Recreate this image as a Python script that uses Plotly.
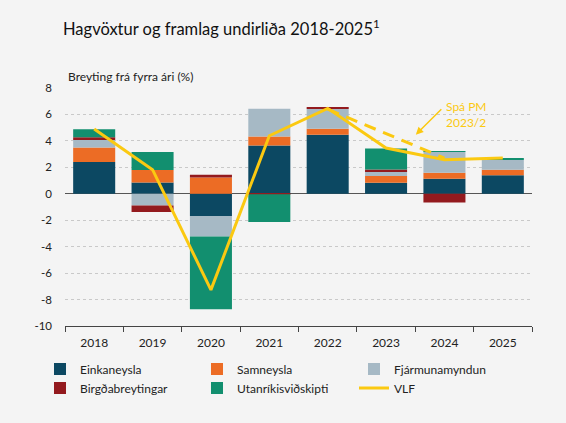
import plotly.graph_objects as go

years = ["2018", "2019", "2020", "2021", "2022", "2023", "2024", "2025"]
einkaneysla = [2.4, 0.86, -1.69, 3.66, 4.47, 0.83, 1.14, 1.41]
samneysla = [1.1, 0.93, 1.24, 0.68, 0.45, 0.51, 0.45, 0.41]
fjarmunamyndun = [0.56, -0.88, -1.54, 2.1, 1.52, 0.38, 1.59, 0.76]
birgdabreytingar = [0.22, -0.5, 0.2, -0.03, 0.08, 0.12, -0.66, 0.0]
utanrikis = [0.6, 1.37, -5.5, -2.1, 0.0, 1.59, 0.05, 0.12]
vlf = [4.9, 1.82, -7.27, 4.39, 6.46, 3.46, 2.58, 2.7]
spa_years = ["2022", "2023", "2024"]
spa_pm = [6.4, 4.55, 2.7]
ytick_vals = [-10, -8, -6, -4, -2, 0, 2, 4, 6, 8]
ytick_text = ["-10", "-8", "-6", "-4", "-2", "0", "2", "4", "6", "8"]

FONT = "Lato"
BG = "#f4f4f4"
YELLOW = "#fbc911"
PLOT_L, PLOT_W = 65, 467
fig = go.Figure()
series = [
    ("Einkaneysla", einkaneysla, "#0c4862", "legend"),
    ("Samneysla", samneysla, "#ec6c25", "legend2"),
    ("Fjármunamyndun", fjarmunamyndun, "#a6b9c5", "legend3"),
    ("Birgðabreytingar", birgdabreytingar, "#931a1e", "legend"),
    ("Utanríkisviðskipti", utanrikis, "#128f6f", "legend2"),
]
for name, vals, col, leg in series:
    fig.add_trace(go.Bar(x=years, y=vals, name=name, legend=leg,
                         marker=dict(color=col, line=dict(width=0))))

fig.add_trace(go.Scatter(x=spa_years, y=spa_pm, mode="lines", showlegend=False,
                         line=dict(color=YELLOW, width=3, dash="12px,8px")))
fig.add_trace(go.Scatter(x=years, y=vlf, mode="lines", name="VLF", legend="legend3",
                         line=dict(color=YELLOW, width=3)))


def leg(xpx):
    return dict(orientation="v", x=(xpx - PLOT_L) / PLOT_W, xanchor="left", y=-0.12, yanchor="top",
                font=dict(size=12, color="#222"), traceorder="normal",
                bgcolor="rgba(0,0,0,0)", itemwidth=30, tracegroupgap=0)


fig.update_layout(
    width=566, height=423,
    margin=dict(l=65, r=34, t=88, b=97),
    paper_bgcolor=BG, plot_bgcolor=BG,
    barmode="relative", bargap=0.28,
    font=dict(family=FONT, size=11, color="#222"),
    showlegend=True,
    legend=leg(40), legend2=leg(197), legend3=leg(354),
)
fig.update_yaxes(range=[-10, 8], tickvals=ytick_vals, ticktext=ytick_text,
                 showgrid=True, gridcolor="#c9c9c9", griddash="dot", gridwidth=1,
                 zeroline=True, zerolinecolor="#555", zerolinewidth=1,
                 ticks="", ticklabelstandoff=12, tickfont=dict(size=11.5))
fig.update_xaxes(type="category", showline=True, linecolor="#444", linewidth=1,
                 ticks="outside", tickson="boundaries", ticklen=5, tickcolor="#444",
                 showgrid=False, tickfont=dict(size=12), ticklabelstandoff=6)

fig.add_annotation(xref="paper", yref="paper", x=-0.008, y=1.252, xanchor="left", yanchor="middle",
                   text="Hagvöxtur og framlag undirliða 2018-2025<sup>1</sup>", showarrow=False,
                   font=dict(size=16.5, color="#111", family=FONT))
fig.add_annotation(xref="paper", yref="paper", x=0.002, y=1.047, xanchor="left", yanchor="middle",
                   text="Breyting frá fyrra ári (%)", showarrow=False,
                   font=dict(size=12, color="#222", family=FONT))
fig.add_annotation(x=5.51, y=4.47, xref="x", yref="y", ax=27, ay=-27,
                   showarrow=True, arrowhead=2, arrowsize=1, arrowwidth=1.5,
                   arrowcolor=YELLOW, text="")
fig.add_annotation(x=6.0, y=7.3, xref="x", yref="y", xanchor="left", yanchor="top",
                   text="Spá PM<br>2023/2", align="left", showarrow=False,
                   font=dict(size=12, color=YELLOW, family=FONT))

fig.write_html("out.html", config={"displayModeBar": False},
               post_script="document.body.style.margin='0';document.body.style.background='%s';" % BG)
